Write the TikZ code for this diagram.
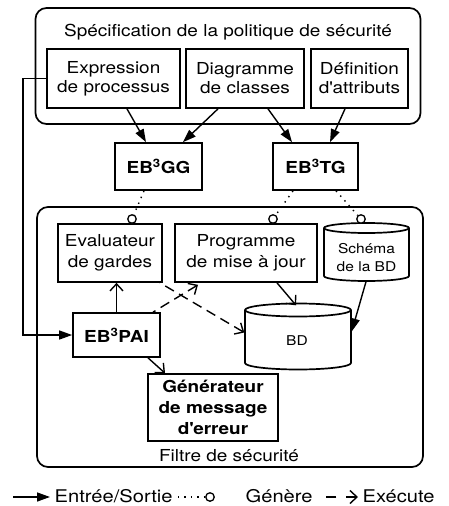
\documentclass[tikz,border=0pt]{standalone}
\usepackage{fontspec}
\setmainfont{TeX Gyre Heros}[FakeStretch=1.15]
\usetikzlibrary{arrows.meta}
\begin{document}
\begin{tikzpicture}[x=1pt,y=-1pt,line width=1.4pt,
  txt/.style={font=\fontsize{16.5}{19}\selectfont},
  lgtxt/.style={font=\fontsize{17.5}{20}\selectfont,anchor=base west,inner sep=0pt},
  box/.style={draw,rectangle,line width=1.7pt,align=center,inner sep=0pt,font=\fontsize{16.5}{19}\selectfont},
  bbox/.style={box,font=\fontsize{16.5}{21}\selectfont\bfseries},
  outer/.style={draw,rectangle,rounded corners=11pt,line width=1.7pt,inner sep=0pt},
  ghost/.style={rectangle,inner sep=0pt},
  cyl/.style={line width=1.7pt},
  io/.style={-{Triangle[length=13pt,width=9pt]}},
  opn/.style={-{Straight Barb[length=7pt,width=13pt]}},
  exer/.style={{Straight Barb[length=7pt,width=13pt]}-,dash pattern=on 10pt off 6pt},
  dotline/.style={dash pattern=on 1.4pt off 5pt},
  gcirc/.style={circle,draw,fill=white,minimum size=8.5pt,inner sep=0pt,line width=1.3pt}
]
\useasboundingbox (0,0) rectangle (449,506);

% outer boxes
\node[outer,minimum width=385pt,minimum height=116pt] (spec) at (228,66) {};
\node[txt,anchor=base] (spectitle) at (228,36) {Spécification de la politique de sécurité};
\node[outer,minimum width=386pt,minimum height=260pt] (filtre) at (230,337) {};
\node[txt,anchor=base] (filtretitle) at (229,461.5) {Filtre de sécurité};

% top boxes
\node[box,minimum width=133pt,minimum height=59pt] (expr) at (113.5,78.5) {Expression\\de processus};
\node[box,minimum width=118pt,minimum height=59pt] (diag) at (245,78.5) {Diagramme\\de classes};
\node[box,minimum width=97pt,minimum height=59pt] (defi) at (359.5,78.5) {Définition\\d\textquotesingle attributs};

\node[bbox,minimum width=87pt,minimum height=47pt] (gg) at (158.5,166.5) {EB\textsuperscript{3}GG};
\node[bbox,minimum width=85pt,minimum height=47pt] (tg) at (315.5,166.5) {EB\textsuperscript{3}TG};

% inner boxes
\node[box,font=\fontsize{16.5}{21}\selectfont,minimum width=104pt,minimum height=58pt] (eval) at (110,253) {Evaluateur\\de gardes};
\node[box,font=\fontsize{16.5}{21}\selectfont,minimum width=142pt,minimum height=58pt] (prog) at (246,253) {Programme\\de mise à jour};
\node[bbox,minimum width=87pt,minimum height=44pt] (pai) at (116.5,335) {EB\textsuperscript{3}PAI};
\node[bbox,minimum width=130pt,minimum height=67pt] (gen) at (213,407.5) {Générateur\\de message\\d\textquotesingle erreur};

% cylinders
\node[ghost,minimum width=85pt,minimum height=58pt] (sch) at (366.5,252) {};
\draw[cyl] (324,228) -- (324,276) arc[start angle=180,end angle=360,x radius=42.5pt,y radius=5pt]
  -- (409,228) arc[start angle=0,end angle=180,x radius=42.5pt,y radius=5pt] -- cycle;
\draw[cyl] (324,228) arc[start angle=180,end angle=360,x radius=42.5pt,y radius=5pt];
\node[align=center,inner sep=0pt,font=\fontsize{13.5}{18}\selectfont] (schtxt) at (366.5,258) {Schéma\\de la BD};

\node[ghost,minimum width=106pt,minimum height=66pt] (bd) at (298,336.5) {};
\draw[cyl] (245,310) -- (245,363) arc[start angle=180,end angle=360,x radius=53pt,y radius=6.5pt]
  -- (351,310) arc[start angle=0,end angle=180,x radius=53pt,y radius=6.5pt] -- cycle;
\draw[cyl] (245,310) arc[start angle=180,end angle=360,x radius=53pt,y radius=6.5pt];
\node[inner sep=0pt,font=\fontsize{13.5}{18}\selectfont] (bdtxt) at (297,341) {BD};

% generate circles
\node[gcirc] (c1) at (132,219) {};
\node[gcirc] (c2) at (273,219) {};
\node[gcirc] (c3) at (361,219) {};

% arrows top
\draw[io] ([xshift=13.5pt]expr.south) -- ([xshift=-12.5pt]gg.north);
\draw[io] ([xshift=-27pt]diag.south) -- ([xshift=24.5pt]gg.north);
\draw[io] ([xshift=23pt]diag.south) -- ([xshift=-23.5pt]tg.north);
\draw[io] ([xshift=-14.5pt]defi.south) -- ([xshift=14.5pt]tg.north);

% dotted generate lines
\draw[dotline] ([xshift=-14.5pt]gg.south) -- (c1);
\draw[dotline] ([xshift=-22.5pt]tg.south) -- (c2);
\draw[dotline] ([xshift=20.5pt]tg.south) -- (c3);

% input line
\coordinate (k1) at (23,78.5);
\coordinate (k2) at (23,335);
\draw[io] (expr.west) -- (k1) -- (k2) -- (pai.west);

% inner arrows
\draw[opn] (pai.north) -- (pai.north |- eval.south);
\draw[exer] ([xshift=-48pt,yshift=-2pt]prog.south) -- ([xshift=36.5pt]pai.north);
\draw[exer] ([yshift=4pt]bd.west) -- ([xshift=50pt]eval.south);
\draw[opn] ([xshift=31pt]prog.south) -- ([xshift=-2pt,yshift=-2.5pt]bd.north);
\draw[io] ([xshift=-0.5pt]sch.south) -- ([yshift=5pt]bd.east);
\draw[opn] ([xshift=31.5pt]pai.south) -- ([xshift=-48pt]gen.north);

% legend
\coordinate (l1a) at (13,497);
\coordinate (l1b) at (50,497);
\draw[io] (l1a) -- (l1b);
\node[lgtxt] (lg1) at (54,502) {Entrée/Sortie};
\coordinate (l2a) at (178,497);
\node[gcirc] (lc) at (210,497) {};
\draw[dotline] (l2a) -- (lc);
\node[lgtxt] (lg2) at (245,502) {Génère};
\coordinate (l3a) at (325,497);
\coordinate (l3b) at (358,497);
\draw[exer,dash pattern=on 10pt off 10pt] (l3b) -- (l3a);
\node[lgtxt] (lg3) at (362,502) {Exécute};
\end{tikzpicture}
\end{document}
